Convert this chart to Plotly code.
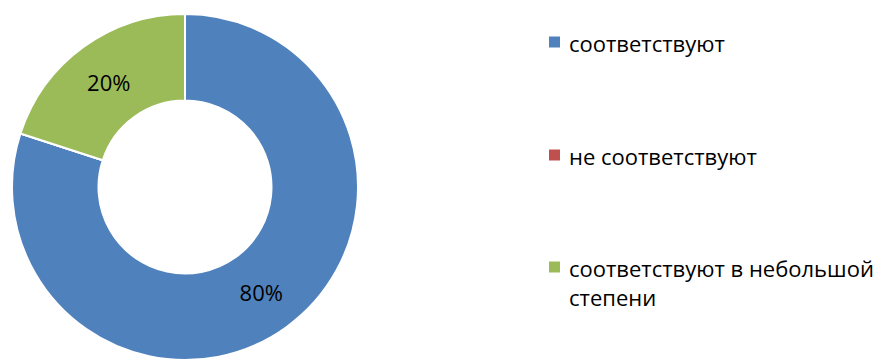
import plotly.graph_objects as go

# Survey answer categories and their shares (percent)
categories = ["соответствуют", "не соответствуют", "соответствуют в небольшой степени"]
legend_text = ["соответствуют", "не соответствуют", "соответствуют в небольшой<br>степени"]
shares = [80, 0, 20]
colors = ["#4F81BD", "#C0504D", "#9BBB59"]

W, H = 886, 361
FONT = "Open Sans"

# donut geometry in pixels
cx, cy, r = 185, 187, 173

slice_text = [f"{v}%" if v else "" for v in shares]

fig = go.Figure(
    go.Pie(
        labels=categories,
        values=shares,
        text=slice_text,
        textinfo="text",
        textposition="inside",
        insidetextorientation="horizontal",
        textfont=dict(family=FONT, size=22, color="#000000"),
        hole=0.5,
        sort=False,
        direction="clockwise",
        rotation=0,
        marker=dict(colors=colors, line=dict(color="#FFFFFF", width=2)),
        showlegend=False,
        hoverinfo="label+percent",
        domain=dict(
            x=[(cx - r) / W, (cx + r) / W],
            y=[1 - (cy + r) / H, 1 - (cy - r) / H],
        ),
    )
)

# legend drawn as swatches + labels on the right
legend_x = 549
legend_y = [42, 155, 267]
sw = 11
shapes = []
annotations = []
for label, col, y in zip(legend_text, colors, legend_y):
    shapes.append(dict(
        type="rect", xref="paper", yref="paper",
        x0=legend_x / W, x1=(legend_x + sw) / W,
        y0=1 - (y + sw / 2) / H, y1=1 - (y - sw / 2) / H,
        fillcolor=col, line=dict(width=0),
    ))
    annotations.append(dict(
        text=label, xref="paper", yref="paper",
        x=(legend_x + 18) / W, y=1 - (y - 16) / H,
        xanchor="left", yanchor="top", align="left",
        showarrow=False,
        font=dict(family=FONT, size=22, color="#000000"),
    ))

fig.update_layout(
    width=W, height=H,
    margin=dict(l=0, r=0, t=0, b=0),
    paper_bgcolor="#FFFFFF",
    plot_bgcolor="#FFFFFF",
    shapes=shapes,
    annotations=annotations,
)

fig.write_html("out.html")
